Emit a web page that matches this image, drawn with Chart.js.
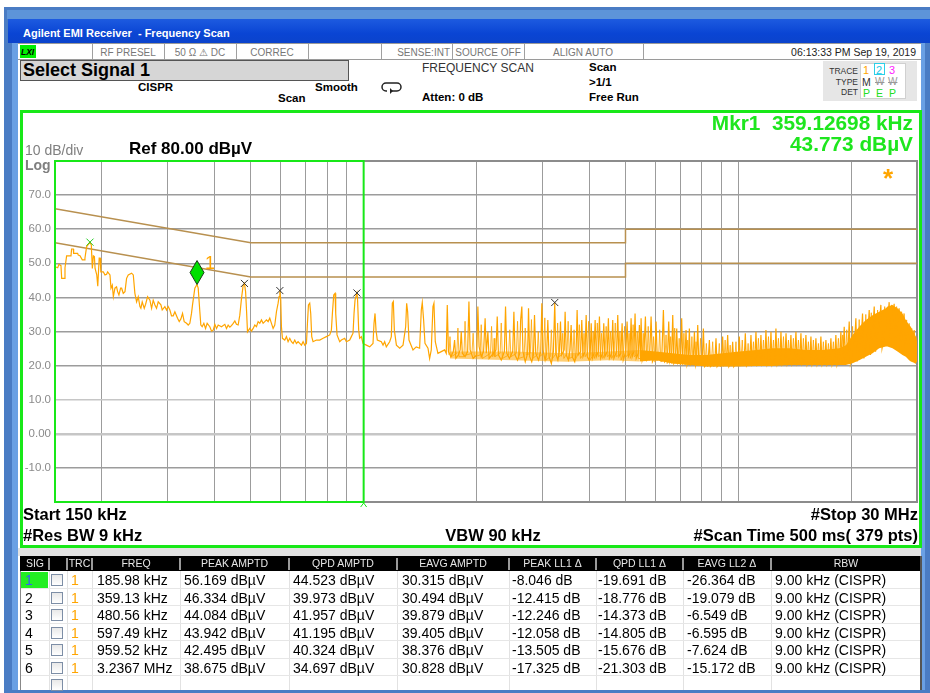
<!DOCTYPE html>
<html>
<head>
<meta charset="utf-8">
<title>Agilent EMI Receiver - Frequency Scan</title>
<script src="https://cdn.jsdelivr.net/npm/chart.js@4.4.1/dist/chart.umd.min.js"></script>
<style>
  html, body { margin: 0; padding: 0; }
  body { width: 930px; height: 693px; position: relative; overflow: hidden; background: #fff;
         font-family: "Liberation Sans", Arial, sans-serif; }
  .box { position: absolute; box-sizing: border-box; }
  .t { position: absolute; white-space: pre; line-height: 1; }
  #graph { position: absolute; left: 23px; top: 113px; width: 896px; height: 432px; }
</style>
</head>
<body>
<!-- window frame -->
<div class="box" style="left:4px;top:7px;width:926px;height:686px;background:#4a7cc4;"></div>
<div class="box" style="left:7px;top:10px;width:923px;height:9px;background:#5d94d9;"></div>
<div class="box" style="left:8px;top:19px;width:922px;height:24px;background:linear-gradient(#1d5be0,#0a45d4 60%,#0b43cc);"></div>
<div class="box" style="left:12px;top:43px;width:6px;height:647px;background:#6aa0e4;"></div>
<div class="box" style="left:921px;top:43px;width:4px;height:647px;background:#6aa0e4;"></div>
<div class="box" style="left:18px;top:43px;width:903px;height:647px;background:#fff;"></div>
<div class="box" style="left:18px;top:548px;width:903px;height:8px;background:#e2e2e2;"></div>

<!-- status row -->
<div class="box" style="left:18px;top:43px;width:903px;height:17px;border-top:1px solid #9a9a9a;border-bottom:1px solid #9a9a9a;"></div>
<div class="box" style="left:20px;top:45px;width:16px;height:13px;background:#00ee00;"></div>
<div id="status"></div>

<!-- panel frame -->
<div class="box" style="left:20px;top:110px;width:902px;height:438px;border:3px solid #18e818;background:#fff;"></div>
<div id="graph"><canvas id="chart" width="896" height="432"></canvas></div>

<div class="box" style="left:20px;top:60px;width:329px;height:21px;background:#d6d6d6;border:1px solid #555;"></div>
<div class="box" style="left:823px;top:61px;width:94px;height:40px;background:#e6e6e6;"></div>
<div class="box" style="left:860px;top:63px;width:46px;height:36px;background:#fff;border:1px solid #d0d0d0;"></div>
<div class="box" style="left:874px;top:63px;width:11px;height:12px;border:1px solid #2ad0e8;"></div>
<svg class="box" style="left:381px;top:81px;" width="22" height="14" viewBox="0 0 22 14">
  <path d="M5 2 H16 A4 4 0 0 1 16 10 H9" fill="none" stroke="#222" stroke-width="1.5"/>
  <path d="M5 2 A4 4 0 0 0 5 10 H6" fill="none" stroke="#222" stroke-width="1.5"/>
  <path d="M9 7 L12 10 L9 13 Z" fill="#222"/>
</svg>

<div id="labels"></div>
<div id="table"></div>

<script>
// ---- chart values ----
const startFreq = 150;      // kHz
const stopFreq = 30000;     // kHz
const refLevel = 80;
const bottomLevel = -20;
const spanStop = 1000;      // green span box right edge, kHz

const xGridTicks = [200, 300, 400, 500, 600, 700, 800, 900, 1000,
  2000, 3000, 4000, 5000, 6000, 7000, 8000, 9000, 10000, 20000];
const yTickVals = [70, 60, 50, 40, 30, 20, 10, 0, -10];

// limit lines [kHz, dBuV]
const limitQP = [[150, 66], [500, 56], [5000, 56], [5000, 60], [30000, 60]];
const limitAV = [[150, 56], [500, 46], [5000, 46], [5000, 50], [30000, 50]];

// trace 1, [kHz, dBuV]
const traceLow = [[150,49.0],[152.5,48.7],[153.7,49.7],[155.6,49.3],[156.3,45.6],[158.9,45.6],[159.5,48.7],
  [161.1,52.2],[165.5,52.2],[166.1,54.2],[167.9,54.2],[168.2,52.9],[172.4,52.9],[173.1,52.4],[174.9,52.2],
  [177.4,51.0],[179.6,51.0],[180.3,51.5],[182.2,54.9],[186,56.2],[187.5,55.4],[188.7,48.5],[189.9,52.2],
  [191.1,52.0],[191.9,48.5],[193.9,46.6],[195.1,43.3],[196.8,51.5],[198,51.5],[198.8,47.5],[201.8,47.5],
  [203.9,46.6],[206,46.8],[207.3,47.5],[210.3,46.6],[211.6,42.7],[213.3,43.6],[214.7,40.2],[216.8,42.7],
  [219,43.1],[220.4,41.7],[222.2,40.7],[224.5,42.7],[225.9,42.7],[228.2,41.2],[230.6,41.7],[232.9,45.6],
  [235.3,46.6],[240.2,47.1],[242.7,46.6],[245.1,41.2],[247.7,38.7],[250.2,40.2],[252.8,37.3],[254.3,36.8],
  [256.4,38.7],[259.6,36.8],[261.8,38.0],[265,40.2],[268.8,39.2],[271.6,36.8],[274.3,39.2],[277.2,37.8],
  [280,36.8],[282.9,38.7],[287.6,37.8],[289.9,36.3],[294.7,37.3],[297.8,36.3],[300.8,37.3],[303.9,36.3],
  [307,34.6],[310.2,34.6],[313.4,35.8],[318.6,33.9],[321.9,32.9],[325.2,33.7],[328.5,35.3],[331.9,32.9],
  [336.7,32.4],[340.2,31.9],[343.6,32.4],[347.1,35.3],[349.3,37.8],[354.3,42.7],[359.1,43.8],[361.7,42.7],
  [365.4,35.8],[367.6,31.9],[370.7,31.4],[374.5,32.4],[378.4,30.9],[382.2,32.4],[388.5,31.4],[392.6,30.1],
  [396.6,30.4],[400.7,32.1],[404.8,30.9],[409,31.9],[417.4,31.4],[426,32.1],[430.4,30.9],[434.8,31.9],
  [439.4,31.3],[443.8,31.7],[448.5,32.4],[453,33.1],[457.6,32.1],[462.4,31.9],[467.1,34.8],[472,39.7],
  [476.8,43.5],[480.6,44.1],[484,41.7],[487,35.8],[489.7,29.9],[496.7,30.9],[501.8,30.1],[507,30.9],[512.2,31.9]];

const traceMid = [[517.5,31.4],[522.8,32.9],[528.1,32.4],[533.6,33.4],[539.1,32.4],[544.6,32.9],[550.2,33.4],
  [555.9,32.9],[561.6,33.9],[567.4,32.4],[573.2,30.9],[579.1,31.9],[585.1,35.8],[591.1,38.3],[594.7,40.2],
  [597.5,42.0],[600.8,39.2],[603.3,31.4],[607,28.0],[615.8,27.5],[622.1,28.5],[628.5,27.0],[635,28.0],
  [641.5,27.0],[648.1,26.5],[654.8,27.5],[661.5,26.5],[668.3,27.0],[675.2,26.5],[682.2,26.0],[689.3,27.0],
  [696.4,26.0],[703.6,26.5],[707.9,32.4],[712.3,37.8],[717.9,38.3],[722.3,35.3],[726.8,28.5],[732.7,27.0],
  [748,27.5],[763.5,27.5],[779.3,28.0],[795.3,28.5],[811.7,29.0],[820.2,30.4],[825.2,35.3],[832,40.7],
  [838.8,41.2],[842.2,35.3],[849.1,29.0],[863.2,27.0],[872.1,27.5],[890,28.0],[899.3,27.0],[917.8,27.5],
  [927.2,28.5],[936.8,29.5],[942.6,35.3],[948.4,39.2],[959.5,41.3],[963,39.7],[970,30.4],[975.8,28.0],
  [986,28.5],[996,26.5],[1016.6,26.0],[1037.8,25.5],[1059.2,26.5],[1065.8,32.4],[1072.5,35.3],[1079,30.4],
  [1087.7,27.5],[1114.8,27.0],[1126.5,26.0],[1137.9,27.0],[1149.5,25.5],[1173.3,27.0],[1185.5,28.5],
  [1192.8,38.3],[1200.1,38.8],[1207.7,30.4],[1223,26.0],[1248.2,25.1],[1273.8,26.0],[1294.7,31.4],
  [1302.6,38.3],[1310.5,35.8],[1321.2,27.5],[1354.3,24.6],[1382,25.5],[1410.6,25.1],[1425.3,36.3],
  [1433.8,38.5],[1445.7,33.4],[1457.9,26.5],[1485,25.1],[1500,22.1],[1515.3,24.6],[1531.1,37.3],
  [1540.5,38.3],[1553.2,27.0],[1578.7,23.6],[1611.6,24.1],[1644.7,24.6],[1661.5,23.6]];

const traceHF1 = [[1672,37.8],[1684,24.1],[1710,22.6],[1735,24.1],[1749,27.5],[1762,22.1],[1790,23.1],
  [1810,24.6],[1822,30.0],[1834,23.6],[1865,22.6],[1895,24.1],[1910,38.8],[1924,24.6],[1960,22.1],
  [2004,23.1],[2018,37.3],[2033,25.6],[2060,22.6],[2090,24.1],[2110,33.9],[2125,23.6],[2146,30.0],
  [2162,22.1],[2200,23.1],[2256,24.6],[2273,34.4],[2290,23.1],[2330,21.6],[2375,24.1],[2392,37.3],
  [2410,23.6],[2450,22.1],[2500,24.1],[2518,35.8],[2536,23.1],[2575,21.6],[2610,23.6],[2625,33.4],
  [2644,37.3],[2662,24.1],[2700,21.1],[2740,23.6],[2755,36.8],[2775,22.6],[2810,21.1],[2840,23.1],
  [2858,34.8],[2880,23.6],[2930,21.6],[2970,24.1],[2990,38.3],[3010,24.6],[3050,21.6],[3080,23.6],
  [3102,33.4],[3125,22.6],[3170,20.6],[3210,24.1],[3237,38.5],[3258,23.6],[3300,21.6],[3330,24.1],
  [3353,32.9],[3375,23.1],[3430,24.6],[3450,35.8],[3475,23.1],[3520,21.6],[3555,24.6],[3580,31.9],
  [3605,22.6],[3660,21.1],[3690,23.6],[3714,36.3],[3740,23.1],[3795,24.1],[3822,33.4],[3850,22.6],
  [3900,24.1],[3926,34.8],[3955,22.6],[4000,21.6],[4025,23.6],[4050,32.4],[4080,22.1],[4120,23.6],
  [4149,33.4],[4180,22.6],[4230,24.1],[4260,34.4],[4290,22.1],[4345,23.6],[4375,32.4],[4405,22.6],
  [4470,24.1],[4501,33.9],[4530,22.1],[4590,23.6],[4623,33.4],[4655,22.1],[4735,24.1],[4768,34.8],
  [4800,22.6],[4860,23.6],[4897,32.4],[4930,21.6],[5010,24.1],[5049,32.9],[5090,22.6],[5140,23.6],
  [5175,33.9],[5210,22.6],[5265,24.1],[5303,35.3],[5340,22.1],[5410,23.6],[5446,31.9],[5480,22.6]];

const traceHF2 = [[5503,33.9],[5540,21.6],[5600,23.6],[5651,34.4],[5690,21.6],[5800,23.1],[5852,34.4],
  [5900,21.1],[5990,22.6],[6033,32.9],[6080,21.6],[6250,22.6],[6312,36.3],[6360,21.1],[6470,22.1],
  [6522,32.9],[6570,21.1],[6640,22.6],[6685,34.8],[6730,20.6],[6800,21.6],[6851,30.9],[6900,20.6],
  [7010,21.6],[7063,33.9],[7110,20.6],[7200,21.6],[7254,30.4],[7300,20.2],[7360,21.6],[7405,30.9],
  [7450,20.2],[7580,21.1],[7637,29.9],[7690,20.2],[7740,21.6],[7795,31.9],[7850,20.2],[8010,21.1],
  [8070,30.9],[8130,19.7],[8310,21.1],[8373,27.5],[8430,19.7],[8660,21.1],[8721,28.0],[8780,19.7],
  [9020,21.6],[9086,28.5],[9150,20.2],[9300,21.6],[9370,29.0],[9440,19.7],[9600,21.1],[9662,27.0],
  [9730,19.7],[9990,21.6],[10065,28.5],[10140,20.2],[10370,21.6],[10443,29.5],[10520,19.9],[10730,21.6],
  [10812,29.0],[10890,20.2],[11070,21.6],[11149,29.9],[11230,20.2],[11410,21.6],[11495,29.0],[11580,20.2],
  [11770,21.6],[11855,30.4],[11940,20.2],[12140,22.1],[12226,29.9],[12310,20.2],[12520,22.1],[12606,30.9],
  [12700,20.2],[12910,22.1],[13001,29.9],[13100,20.4],[13320,22.6],[13412,29.5],[13510,20.4],[13720,22.6],
  [13822,29.0],[13920,20.4],[14150,22.6],[14255,29.9],[14360,20.4],[14590,22.1],[14699,29.5],[14800,20.4],
  [15050,22.1],[15156,29.0],[15270,20.2],[15520,22.1],[15631,28.5],[15740,20.2],[16000,22.1],[16117,28.0],
  [16240,20.2],[16500,22.1],[16618,28.5],[16740,20.2],[17020,22.1],[17139,27.5],[17260,20.2],[17550,22.1],
  [17673,28.0],[17800,20.2],[18100,22.6],[18220,29.0],[18350,20.2],[18660,23.1],[18791,29.9],[18920,20.2],
  [19050,24.1],[19180,31.4],[19320,20.4],[19640,25.1],[19777,32.9],[19920,20.7],[20450,27.0],[20604,33.9],
  [20760,21.2],[21300,28.5],[21466,35.3],[21640,22.1],[22200,30.4],[22364,36.3],[22540,23.1],[22900,31.9],
  [23065,37.3],[23250,24.1],[23850,33.4],[24024,37.8],[24200,25.1],[25100,34.8],[25283,38.6],[25470,25.6],
  [25880,34.8],[26071,38.1],[26260,25.1],[26680,33.4],[26876,36.8],[27080,24.1],[27520,32.4],[27715,35.3],
  [27920,23.1],[28380,29.9],[28586,32.4],[28800,21.6],[29280,27.5],[29483,30.4],[29700,20.6],[30000,25.6]];

// smaller spikes lying between the ones above, 1.7 - 30 MHz
const traceSpikes = [
  [1689,23.1],[1700,28.5],[1712,22.6],[1773,23.6],[1785,31.0],[1797,22.6],[1852,22.6],[1865,33.0],[1878,23.1],
  [1946,23.6],[1960,29.5],[1974,22.6],[2046,23.1],[2060,32.0],[2074,22.1],[2180,23.6],[2195,31.5],[2210,22.6],
  [2221,23.1],[2230,28.0],[2240,22.6],[2314,23.6],[2330,32.5],[2346,22.1],[2438,23.1],[2455,30.5],[2472,22.6],
  [2557,23.6],[2575,33.0],[2593,22.1],[2681,22.6],[2700,31.0],[2719,23.1],[2785,23.6],[2805,33.5],[2825,22.1],
  [2905,23.1],[2925,30.0],[2945,22.6],[3024,23.6],[3045,34.0],[3066,21.6],[3148,22.6],[3170,30.5],[3192,22.1],
  [3272,23.6],[3295,32.5],[3318,22.6],[3376,23.1],[3400,29.5],[3424,22.1],[3490,23.6],[3515,33.0],[3540,22.1],
  [3620,22.6],[3645,30.5],[3670,21.6],[3739,23.6],[3765,32.0],[3791,22.1],[3848,23.1],[3875,29.5],[3902,22.6],
  [3960,23.6],[3988,33.0],[4016,21.6],[4071,22.6],[4100,30.0],[4129,22.1],[4176,23.6],[4205,32.5],[4234,22.6],
  [4288,23.1],[4318,29.5],[4348,22.1],[4409,23.6],[4440,31.5],[4471,22.6],[4530,23.1],[4562,30.0],[4594,22.1],
  [4662,23.6],[4695,32.5],[4728,22.6],[4798,23.1],[4832,30.0],[4866,21.6],[4937,23.6],[4972,31.5],[5007,22.6],
  [5076,23.1],[5112,29.5],[5148,22.1],[5203,23.6],[5240,32.0],[5277,22.6],[5337,23.1],[5375,30.0],[5413,22.1],
  [5538,22.1],[5577,29.5],[5616,21.6],[5710,22.6],[5750,31.5],[5790,21.6],[5898,22.1],[5940,28.5],[5982,21.1],
  [6127,22.1],[6170,30.5],[6213,21.1],[6370,21.6],[6415,29.0],[6460,20.6],[6554,21.6],[6600,28.5],[6646,20.6],
  [6718,21.6],[6765,31.0],[6812,20.6],[6906,21.1],[6955,28.0],[7004,20.2],[7110,21.6],[7160,29.5],[7210,20.2],
  [7279,21.1],[7330,27.5],[7381,20.2],[7467,21.1],[7520,28.5],[7573,20.2],[7661,21.1],[7715,27.0],[7769,19.9],
  [7874,21.1],[7930,28.0],[7986,19.9],[8162,21.1],[8220,26.5],[8278,19.7],[8485,21.6],[8545,27.0],[8605,19.7],
  [8838,21.6],[8900,26.5],[8962,19.7],[9160,21.6],[9225,27.5],[9290,19.9],[9448,21.6],[9515,26.0],[9582,19.9],
  [9791,22.1],[9860,27.0],[9929,19.9],[10178,22.1],[10250,27.5],[10322,20.2],[10550,22.1],[10625,26.5],[10700,20.2],
  [10903,22.6],[10980,27.0],[11057,20.2],[11241,22.6],[11320,28.0],[11399,20.2],[11593,22.6],[11675,27.5],[11757,20.2],
  [11956,22.6],[12040,28.5],[12124,20.4],[12328,23.1],[12415,27.5],[12502,20.4],[12710,23.1],[12800,28.0],[12890,20.4],
  [13113,23.1],[13205,28.5],[13297,20.4],[13520,23.1],[13615,27.5],[13710,20.6],[13937,23.1],[14035,28.0],[14133,20.6],
  [14374,23.1],[14475,27.5],[14576,20.6],[14820,22.6],[14925,28.0],[15030,20.4],[15282,22.6],[15390,27.0],[15498,20.4],
  [15759,22.6],[15870,27.5],[15981,20.4],[16250,22.6],[16365,26.5],[16480,20.4],[16757,22.6],[16875,27.0],[16993,20.4],
  [17283,22.6],[17405,26.5],[17527,20.4],[17819,23.1],[17945,27.0],[18071,20.4],[18375,23.1],[18505,28.0],[18635,20.4],
  [18867,23.6],[19000,29.0],[19133,20.6],[19340,22.6],[19480,30.5],[19620,21.1],[20050,24.1],[20190,31.5],[20330,21.6],
  [20880,25.6],[21030,33.5],[21180,22.6],[21750,27.0],[21900,35.0],[22050,23.6],[22490,28.5],[22650,35.5],[22810,24.6],
  [23380,29.5],[23550,36.3],[23720,25.6],[24420,30.4],[24600,37.3],[24780,26.0],[25500,30.9],[25680,37.8],[25860,26.0],
  [26280,30.4],[26470,37.3],[26660,25.1],[27100,29.5],[27290,35.8],[27480,24.1],[27950,28.5],[28150,33.4],[28350,23.1],
  [28840,26.5],[29050,30.9],[29260,22.1],[29590,25.1],[29800,28.5],[30000,24.1]];

// noise floor band envelopes (kHz, low dBuV, high dBuV)
const bandAFreq = [1700, 2500, 3500, 4500, 5447];
const bandALow = [22.1, 21.6, 21.1, 21.6, 21.2];
const bandAHigh = [24.1, 24.1, 23.6, 24.1, 24.6];
const bandBFreq = [5447, 6033, 6685, 7405, 8202, 9086, 10065, 11149, 12353, 13688,
  15156, 16791, 18599, 19375, 20187, 21030, 21908, 22829, 23776, 24773, 25024, 25802, 26609, 27437,
  28003, 28586, 28880, 29779, 30000];
const bandBLow = [21.2, 21.6, 20.6, 20.2, 19.7, 19.7, 19.7, 19.9, 19.9, 20.2,
  20.2, 20.2, 20.2, 20.2, 20.7, 21.6, 22.6, 23.6, 25.1, 25.6, 25.6, 25.1, 24.1, 23.1,
  22.6, 21.6, 21.2, 20.6, 21.2];
const bandBHigh = [24.6, 24.1, 23.6, 23.1, 23.1, 23.6, 24.1, 24.6, 25.1, 25.1,
  24.6, 24.6, 25.1, 26.0, 29.0, 31.4, 33.4, 34.8, 35.8, 36.8, 37.3, 37.8, 36.8, 35.3,
  33.4, 31.9, 31.4, 28.5, 27.0];

// peak "x" marks and marker 1
const peakMarks = [[185.98, 56.2], [480.56, 44.1], [597.49, 42.0], [959.52, 41.3], [3236.7, 38.5]];
const peakColors = ['#22cc22', '#333333', '#333333', '#333333', '#333333'];
const mkr1Freq = 359.127;
const mkr1Level = 43.773;

// signal list
const tblSig = ['1', '2', '3', '4', '5', '6'];
const tblFreq = ['185.98 kHz', '359.13 kHz', '480.56 kHz', '597.49 kHz', '959.52 kHz', '3.2367 MHz'];
const tblPeak = ['56.169 dBµV', '46.334 dBµV', '44.084 dBµV', '43.942 dBµV', '42.495 dBµV', '38.675 dBµV'];
const tblQpd = ['44.523 dBµV', '39.973 dBµV', '41.957 dBµV', '41.195 dBµV', '40.324 dBµV', '34.697 dBµV'];
const tblEavg = ['30.315 dBµV', '30.494 dBµV', '39.879 dBµV', '39.405 dBµV', '38.376 dBµV', '30.828 dBµV'];
const tblPeakLL1 = ['-8.046 dB', '-12.415 dB', '-12.246 dB', '-12.058 dB', '-13.505 dB', '-17.325 dB'];
const tblQpdLL1 = ['-19.691 dB', '-18.776 dB', '-14.373 dB', '-14.805 dB', '-15.676 dB', '-21.303 dB'];
const tblEavgLL2 = ['-26.364 dB', '-19.079 dB', '-6.549 dB', '-6.595 dB', '-7.624 dB', '-15.172 dB'];
const tblRbw = '9.00 kHz (CISPR)';

// ---- text helpers ----
function label(parent, x, base, text, size, o) {
  o = o || {};
  const d = document.createElement('div');
  d.className = 't';
  d.textContent = text;
  d.style.fontSize = size + 'px';
  d.style.top = (base - 0.846 * size) + 'px';
  if (o.bold) d.style.fontWeight = 'bold';
  d.style.color = o.color || '#000';
  if (o.family) d.style.fontFamily = o.family;
  if (o.strike) d.style.textDecoration = 'line-through';
  if (o.align === 'right') d.style.right = (930 - x) + 'px';
  else if (o.align === 'center') { d.style.left = x + 'px'; d.style.transform = 'translateX(-50%)'; }
  else d.style.left = x + 'px';
  parent.appendChild(d);
  return d;
}

const L = document.getElementById('labels');
label(L, 23, 37, 'Agilent EMI Receiver  - Frequency Scan', 11, { bold: true, color: '#fff' });

// status row
const S = document.getElementById('status');
[92, 164, 236, 308, 381, 452, 524, 643].forEach(x => {
  const b = document.createElement('div');
  b.className = 'box';
  b.style.cssText = 'left:' + x + 'px;top:44px;width:1px;height:15px;background:#a0a0a0;';
  S.appendChild(b);
});
label(S, 21, 55.5, 'LXI', 8.5, { bold: true, color: '#000' }).style.fontStyle = 'italic';
label(S, 128, 56, 'RF PRESEL', 10, { color: '#777', align: 'center' });
label(S, 200, 56, '50 Ω ⚠ DC', 10, { color: '#777', align: 'center' });
label(S, 272, 56, 'CORREC', 10, { color: '#777', align: 'center' });
label(S, 450, 56, 'SENSE:INT', 10, { color: '#777', align: 'right' });
label(S, 488, 56, 'SOURCE OFF', 10, { color: '#777', align: 'center' });
label(S, 583, 56, 'ALIGN AUTO', 10, { color: '#777', align: 'center' });
label(S, 916, 56, '06:13:33 PM Sep 19, 2019', 10.5, { color: '#222', align: 'right' });

// settings rows
label(L, 23, 76, 'Select Signal 1', 18, { bold: true });
label(L, 138, 91.5, 'CISPR', 11.5, { bold: true });
label(L, 315, 91.5, 'Smooth', 11.5, { bold: true });
label(L, 278, 103, 'Scan', 11.5, { bold: true });
label(L, 422, 72, 'FREQUENCY SCAN', 12, { color: '#333' });
label(L, 422, 101.5, 'Atten: 0 dB', 11.5, { bold: true });
label(L, 589, 72, 'Scan', 11.5, { bold: true });
label(L, 589, 86.5, '>1/1', 11.5, { bold: true });
label(L, 589, 101.5, 'Free Run', 11.5, { bold: true });
label(L, 858, 74, 'TRACE', 8.5, { color: '#333', align: 'right' });
label(L, 858, 85, 'TYPE', 8.5, { color: '#333', align: 'right' });
label(L, 858, 95.5, 'DET', 8.5, { color: '#333', align: 'right' });
label(L, 863, 74.5, '1', 11, { color: '#ffa500' });
label(L, 876, 74.5, '2', 11, { color: '#20c8e8' });
label(L, 889, 74.5, '3', 11, { color: '#ff22ff' });
label(L, 862, 85.5, 'M', 10.5, { color: '#333' });
label(L, 875, 85.5, 'W', 10, { color: '#999', strike: true });
label(L, 888, 85.5, 'W', 10, { color: '#999', strike: true });
label(L, 863, 96.5, 'P', 10.5, { color: '#22dd22' });
label(L, 876, 96.5, 'E', 10.5, { color: '#22dd22' });
label(L, 889, 96.5, 'P', 10.5, { color: '#22dd22' });

// graph annotations
label(L, 913, 131, 'Mkr1  359.12698 kHz', 20.8, { bold: true, color: '#1ee61e', align: 'right' });
label(L, 913, 152, '43.773 dBµV', 20.8, { bold: true, color: '#1ee61e', align: 'right' });
label(L, 25, 155, '10 dB/div', 14, { color: '#7f7f7f' });
label(L, 25, 170, 'Log', 14, { color: '#7f7f7f', bold: true });
label(L, 129, 154, 'Ref 80.00 dBµV', 17, { bold: true });
label(L, 883, 187, '*', 26, { bold: true, color: '#ffa500' });
label(L, 23, 520, 'Start 150 kHz', 16.5, { bold: true });
label(L, 918, 520, '#Stop 30 MHz', 16.5, { bold: true, align: 'right' });
label(L, 23, 541, '#Res BW 9 kHz', 16.5, { bold: true });
label(L, 493, 541, 'VBW 90 kHz', 16.5, { bold: true, align: 'center' });
label(L, 918, 541, '#Scan Time 500 ms( 379 pts)', 16.5, { bold: true, align: 'right' });

// ---- signal list table ----
const T = document.getElementById('table');
const cols = [
  { x: 21, w: 28, title: 'SIG' }, { x: 49, w: 18, title: '' }, { x: 67, w: 25, title: 'TRC' },
  { x: 92, w: 88, title: 'FREQ' }, { x: 180, w: 109, title: 'PEAK AMPTD' }, { x: 289, w: 108, title: 'QPD AMPTD' },
  { x: 397, w: 112, title: 'EAVG AMPTD' }, { x: 509, w: 87, title: 'PEAK LL1 Δ' }, { x: 596, w: 87, title: 'QPD LL1 Δ' },
  { x: 683, w: 88, title: 'EAVG LL2 Δ' }, { x: 771, w: 150, title: 'RBW' }];
function rect(css) {
  const b = document.createElement('div');
  b.className = 'box';
  b.style.cssText = css;
  T.appendChild(b);
  return b;
}
rect('left:20px;top:556px;width:901px;height:134px;background:#fff;border-left:1px solid #888;');
rect('left:20px;top:556px;width:901px;height:15px;background:#000;');
cols.forEach((c, i) => {
  if (i > 0) {
    rect('left:' + (c.x - 1) + 'px;top:558px;width:2px;height:12px;background:#9a9a9a;');
    rect('left:' + c.x + 'px;top:571px;width:1px;height:119px;background:#e2e2e2;');
  }
  if (c.title) label(T, c.x + c.w / 2, 567, c.title, 10.5, { color: '#e6e6e6', align: 'center' });
});
rect('left:920px;top:556px;width:2px;height:134px;background:#555;');
const rowTop = 571, rowH = 17.5;
for (let r = 0; r < 7; r++) {
  const top = rowTop + r * rowH;
  rect('left:21px;top:' + (top + rowH - 1) + 'px;width:899px;height:1px;background:#e6e6e6;');
  rect('left:51px;top:' + (top + 3) + 'px;width:12px;height:12px;border:1px solid #7d8ea6;background:linear-gradient(#e8e8e8,#fff);');
}
rect('left:21px;top:571.5px;width:27px;height:16.5px;background:#22ee22;');
tblSig.forEach((s, r) => {
  const base = rowTop + r * rowH + 14.3;
  label(T, 25, base, s, 14, { color: r === 0 ? '#3a58ff' : '#000' });
  label(T, 71, base, '1', 14, { color: '#ffa500' });
  label(T, 97, base, tblFreq[r], 14);
  label(T, 184, base, tblPeak[r], 14);
  label(T, 293, base, tblQpd[r], 14);
  label(T, 402, base, tblEavg[r], 14);
  label(T, 512, base, tblPeakLL1[r], 14);
  label(T, 598, base, tblQpdLL1[r], 14);
  label(T, 687, base, tblEavgLL2[r], 14);
  label(T, 775, base, tblRbw, 14);
});

// ---- the spectrum plot ----
const toXY = arr => arr.map(p => ({ x: p[0], y: p[1] }));
const zipXY = (fs, vs) => fs.map((f, i) => ({ x: f, y: vs[i] }));
const trace = [].concat(traceLow, traceMid, traceHF1, traceHF2);
const orange = '#ffa500';

const panelPlugin = {
  id: 'panel',
  beforeDatasetsDraw(c) {
    const { ctx, chartArea: a } = c;
    ctx.save();
    ctx.strokeStyle = '#8c8c8c';
    ctx.lineWidth = 2;
    ctx.strokeRect(a.left, a.top, a.right - a.left, a.bottom - a.top);
    ctx.restore();
  },
  afterDatasetsDraw(c) {
    const { ctx, chartArea: a, scales: { x, y } } = c;
    ctx.save();
    // span box up to 1 MHz
    const gx = x.getPixelForValue(spanStop);
    ctx.strokeStyle = '#18e818';
    ctx.lineWidth = 2;
    ctx.strokeRect(a.left, a.top, gx - a.left, a.bottom - a.top);
    ctx.lineWidth = 1;
    ctx.beginPath();
    ctx.moveTo(gx - 3, a.bottom + 5); ctx.lineTo(gx, a.bottom + 1); ctx.lineTo(gx + 3, a.bottom + 5);
    ctx.stroke();
    // marker 1 diamond
    const px = x.getPixelForValue(mkr1Freq), py = y.getPixelForValue(mkr1Level);
    ctx.beginPath();
    ctx.moveTo(px, py); ctx.lineTo(px + 7, py - 12); ctx.lineTo(px, py - 24); ctx.lineTo(px - 7, py - 12);
    ctx.closePath();
    ctx.fillStyle = '#00e000';
    ctx.fill();
    ctx.strokeStyle = '#1b3b1b';
    ctx.stroke();
    ctx.fillStyle = orange;
    ctx.font = '18px "Liberation Sans"';
    ctx.fillText('1', px + 8, py - 16);
    ctx.restore();
  }
};

new Chart(document.getElementById('chart'), {
  type: 'line',
  data: {
    datasets: [
      { data: zipXY(bandAFreq, bandALow), borderWidth: 0, pointRadius: 0, fill: false, order: 5 },
      { data: zipXY(bandAFreq, bandAHigh), borderWidth: 0, pointRadius: 0,
        backgroundColor: 'rgba(255,165,0,0.55)', fill: '-1', order: 5 },
      { data: zipXY(bandBFreq, bandBLow), borderWidth: 0, pointRadius: 0, fill: false, order: 5 },
      { data: zipXY(bandBFreq, bandBHigh), borderWidth: 0, pointRadius: 0,
        backgroundColor: orange, fill: '-1', order: 5 },
      { data: toXY(limitQP), borderColor: '#b8904f', borderWidth: 1.5, pointRadius: 0, fill: false, order: 4 },
      { data: toXY(limitAV), borderColor: '#b8904f', borderWidth: 1.5, pointRadius: 0, fill: false, order: 4 },
      { data: toXY(traceSpikes), borderColor: 'rgba(255,165,0,0.8)', borderWidth: 1, pointRadius: 0, fill: false, order: 3 },
      { data: toXY(trace), borderColor: orange, borderWidth: 1.2, pointRadius: 0, fill: false, order: 2 },
      { data: toXY(peakMarks), showLine: false, pointStyle: 'crossRot', pointRadius: 5, borderWidth: 1,
        borderColor: peakColors, order: 1 }
    ]
  },
  options: {
    animation: false,
    responsive: false,
    events: [],
    layout: { autoPadding: false, padding: { top: 48, right: 2, bottom: 43, left: 0 } },
    plugins: { legend: { display: false }, tooltip: { enabled: false } },
    scales: {
      x: {
        type: 'logarithmic', min: startFreq, max: stopFreq,
        afterBuildTicks: s => { s.ticks = xGridTicks.map(v => ({ value: v })); },
        afterFit: s => { s.height = 0; },
        ticks: { display: false },
        grid: { color: '#9c9c9c', lineWidth: 1, drawTicks: false },
        border: { display: false }
      },
      y: {
        min: bottomLevel, max: refLevel,
        afterBuildTicks: s => { s.ticks = yTickVals.map(v => ({ value: v })); },
        afterFit: s => { s.width = 32; },
        ticks: {
          color: '#8a8a8a', font: { size: 11.5, family: '"Liberation Sans"' }, padding: 4,
          callback: v => (v === 0 ? '0.00' : v.toFixed(1))
        },
        grid: {
          drawTicks: false,
          color: ctx => (ctx.tick && (ctx.tick.value === 0 || ctx.tick.value === 10) ? '#c6c6c6' : '#9c9c9c'),
          lineWidth: ctx => (ctx.tick && ctx.tick.value === 0 ? 2.5 : 1.5)
        },
        border: { display: false }
      }
    }
  },
  plugins: [panelPlugin]
});
</script>
</body>
</html>
